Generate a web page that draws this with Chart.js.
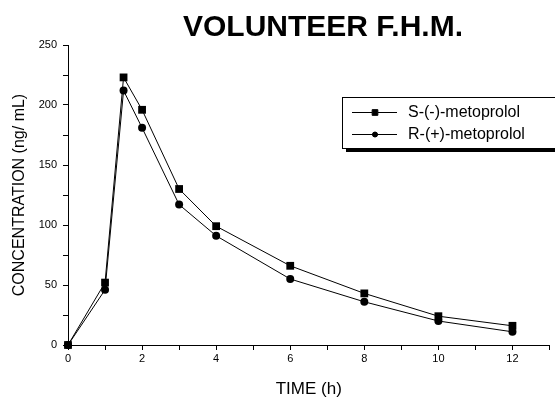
<!DOCTYPE html>
<html>
<head>
<meta charset="utf-8">
<script src="https://cdn.jsdelivr.net/npm/chart.js@4/dist/chart.umd.min.js"></script>
<style>
  html, body { margin: 0; padding: 0; background: #fff; }
  #wrap { width: 555px; height: 400px; position: relative; }
</style>
</head>
<body>
<div id="wrap"><canvas id="mycanvas"></canvas></div>
<script>
var chartTitle = 'VOLUNTEER F.H.M.';
var times = [0, 1, 1.5, 2, 3, 4, 6, 8, 10, 12];
var sMeto = [0, 52, 223, 196, 130, 99, 66, 43, 24, 16];
var rMeto = [0, 46, 212, 181, 117, 91, 55, 36, 20, 11];
var seriesNames = ['S-(-)-metoprolol', 'R-(+)-metoprolol'];
var xTitle = 'TIME (h)';
var yTitle = 'CONCENTRATION (ng/ mL)';

var FONT = '"Liberation Sans", Arial, sans-serif';

function pairs(xs, ys) {
	var out = [];
	for (var i = 0; i < xs.length; i++) out.push({x: xs[i], y: ys[i]});
	return out;
}

// title + boxed legend with shadow, drawn on top
var decor = {
	id: 'decor',
	afterDraw: function(chart) {
		var ctx = chart.ctx;
		ctx.save();
		ctx.fillStyle = '#000';
		ctx.font = 'bold 30px ' + FONT;
		ctx.textAlign = 'center';
		ctx.textBaseline = 'alphabetic';
		ctx.fillText(chartTitle, 323, 36);

		// legend box
		var bx = 342, by = 97, bw = 220, bh = 51;
		ctx.fillStyle = '#000';
		ctx.fillRect(bx + 4, by + bh, bw, 4);
		ctx.fillStyle = '#fff';
		ctx.fillRect(bx, by, bw, bh);
		ctx.strokeStyle = '#000';
		ctx.lineWidth = 1;
		ctx.strokeRect(bx + 0.5, by + 0.5, bw, bh);

		var rows = [112, 134];
		chart.data.datasets.forEach(function(ds, i) {
			var y = rows[i];
			ctx.beginPath();
			ctx.moveTo(352, y + 0.5);
			ctx.lineTo(397, y + 0.5);
			ctx.strokeStyle = '#000';
			ctx.lineWidth = 1;
			ctx.stroke();
			Chart.helpers.drawPoint(ctx, {pointStyle: ds.pointStyle, radius: ds.pointRadius - 1.5, borderWidth: 1}, 375, y + 0.5);
			ctx.fillStyle = '#000';
			ctx.fill();
			ctx.font = '16px ' + FONT;
			ctx.textAlign = 'left';
			ctx.textBaseline = 'middle';
			ctx.fillText(ds.label, 408, y + 1);
		});
		ctx.restore();
	}
};

var ctx = document.getElementById('mycanvas');
new Chart(ctx, {
	type: 'line',
	data: {
		datasets: [
			{
				label: seriesNames[0],
				data: pairs(times, sMeto),
				borderColor: '#000',
				backgroundColor: '#000',
				borderWidth: 1,
				pointStyle: 'rect',
				pointRadius: 5.5,
				pointBorderWidth: 0,
				tension: 0,
				clip: false
			},
			{
				label: seriesNames[1],
				data: pairs(times, rMeto),
				borderColor: '#000',
				backgroundColor: '#000',
				borderWidth: 1,
				pointStyle: 'circle',
				pointRadius: 4,
				pointBorderWidth: 0,
				tension: 0,
				clip: false
			}
		]
	},
	options: {
		responsive: true,
		maintainAspectRatio: false,
		animation: false,
		layout: { padding: { top: 45, right: 2, left: 0, bottom: 0 } },
		plugins: {
			legend: { display: false },
			tooltip: { enabled: false }
		},
		scales: {
			x: {
				type: 'linear',
				min: 0,
				max: 13,
				afterFit: function(s) { s.height = 55; },
				border: { display: true, color: '#000', width: 1 },
				grid: { drawOnChartArea: false, drawTicks: true, tickLength: 5, color: '#000' },
				ticks: {
					stepSize: 1,
					padding: 2,
					color: '#000',
					font: { family: FONT, size: 11 },
					maxRotation: 0,
					autoSkip: false,
					callback: function(v) { return (v % 2 === 0 && v <= 12) ? v : ''; }
				},
				title: {
					display: true,
					text: xTitle,
					color: '#000',
					font: { family: FONT, size: 17 },
					padding: { top: 0, bottom: 0 }
				}
			},
			y: {
				min: 0,
				max: 250,
				afterFit: function(s) { s.width = 68; },
				border: { display: true, color: '#000', width: 1 },
				grid: { drawOnChartArea: false, drawTicks: true, tickLength: 5, color: '#000' },
				ticks: {
					stepSize: 25,
					padding: 6,
					color: '#000',
					font: { family: FONT, size: 11 },
					autoSkip: false,
					callback: function(v) { return v % 50 === 0 ? v : ''; }
				},
				title: {
					display: true,
					text: yTitle,
					color: '#000',
					font: { family: FONT, size: 16 },
					padding: { top: 10, bottom: 0 }
				}
			}
		}
	},
	plugins: [decor]
});
</script>
</body>
</html>
